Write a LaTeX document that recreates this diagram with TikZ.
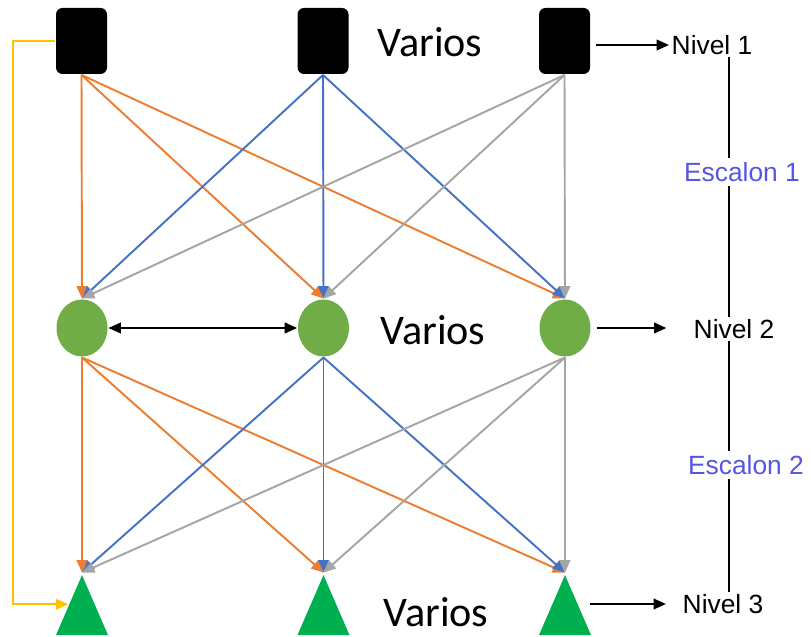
\documentclass[tikz,border=0pt]{standalone}
\usepackage{fontspec}
\setmainfont{Liberation Sans}
\newfontfamily\variosfont{Carlito}
\usetikzlibrary{shapes,arrows.meta}
\definecolor{naranja}{RGB}{237,125,49}
\definecolor{azul}{RGB}{68,114,196}
\definecolor{gris}{RGB}{165,165,165}
\definecolor{amarillo}{RGB}{255,192,0}
\definecolor{verdebola}{RGB}{112,173,71}
\definecolor{verdetri}{RGB}{0,176,80}
\definecolor{morado}{RGB}{85,85,230}

\begin{document}
\begin{tikzpicture}[node distance=4.83cm, line width=1.1pt, >={Triangle[length=7pt,width=6pt]}]
\tikzstyle{cuadro}=[fill=black, rounded corners=0.13cm, minimum width=1.02cm, minimum height=1.32cm, inner sep=0pt]
\tikzstyle{bola}=[ellipse, fill=verdebola, minimum width=1.02cm, minimum height=1.14cm, inner sep=0pt]
\tikzstyle{tri}=[isosceles triangle, isosceles triangle stretches, shape border rotate=90, fill=verdetri, minimum width=1.04cm, minimum height=1.2cm, inner sep=0pt]
\tikzstyle{varios}=[font=\variosfont\fontsize{24}{28}\selectfont]
\tikzstyle{nivel}=[font=\fontsize{15}{18}\selectfont, inner sep=1pt]
\tikzstyle{escalon}=[font=\fontsize{15}{18}\selectfont, text=morado, inner sep=2pt]
\useasboundingbox (0,0) rectangle (16.22,-12.74);
% tres niveles
\node[cuadro] (A) at (1.63,-0.82)  {};
\node[cuadro] (B) [right of=A]     {};
\node[cuadro] (C) [right of=B]     {};
\node[bola]   (D) at (1.64,-6.56)  {};
\node[bola]   (E) [right of=D]     {};
\node[bola]   (F) [right of=E]     {};
\node[tri]    (G) at (1.64,-12.36) {};
\node[tri]    (H) [right of=G]     {};
\node[tri]    (I) [right of=H]     {};
\node[varios] (V1) at (8.6,-0.84)  {Varios};
\node[varios] (V2) at (8.66,-6.6)  {Varios};
\node[varios] (V3) at (8.72,-12.24) {Varios};
\node[nivel]   (N1) at (14.24,-0.90) {Nivel 1};
\node[nivel]   (N2) at (14.68,-6.58) {Nivel 2};
\node[nivel]   (N3) at (14.46,-12.08) {Nivel 3};
\node[escalon] (E1) at (14.84,-3.44) {Escalon 1};
\node[escalon] (E2) at (14.92,-9.30) {Escalon 2};
\coordinate (eje) at (14.58,0);
\coordinate (esq) at (0.26,0);
% flechas entre niveles
\path[->]
(A.south) edge [naranja] (D.north)
          edge [naranja] (E.north)
          edge [naranja] (F.north)
(B.south) edge [azul]    (D.north)
          edge [azul]    (E.north)
          edge [azul]    (F.north)
(C.south) edge [gris]    (D.north)
          edge [gris]    (E.north)
          edge [gris]    (F.north)
(D.south) edge [naranja] (G.apex)
          edge [naranja] (H.apex)
          edge [naranja] (I.apex)
(E.south) edge [azul]    (G.apex)
          edge [azul]    (H.apex)
          edge [azul]    (I.apex)
(F.south) edge [gris]    (G.apex)
          edge [gris]    (H.apex)
          edge [gris]    (I.apex);
\draw[->, amarillo] (A.west) -| (esq |- G.left side) -- (G.left side);
\draw[<->] (D) -- (E);
\draw[->, shorten <=3pt] (C.east |- N1) -- (N1);
\draw[->, shorten <=3pt, shorten >=14pt] (F) -- (F -| N2.west);
\draw[->, shorten <=3pt, shorten >=8pt] (I.east |- N3) -- (N3);
% escalones
\draw[line width=0.9pt] (eje |- N1.south) -- (eje |- E1.north);
\draw[line width=0.9pt] (eje |- E1.south) -- (eje |- N2.north);
\draw[line width=0.9pt] (eje |- N2.south) -- (eje |- E2.north);
\draw[line width=0.9pt] (eje |- E2.south) -- (eje |- N3.north);
\end{tikzpicture}
\end{document}
